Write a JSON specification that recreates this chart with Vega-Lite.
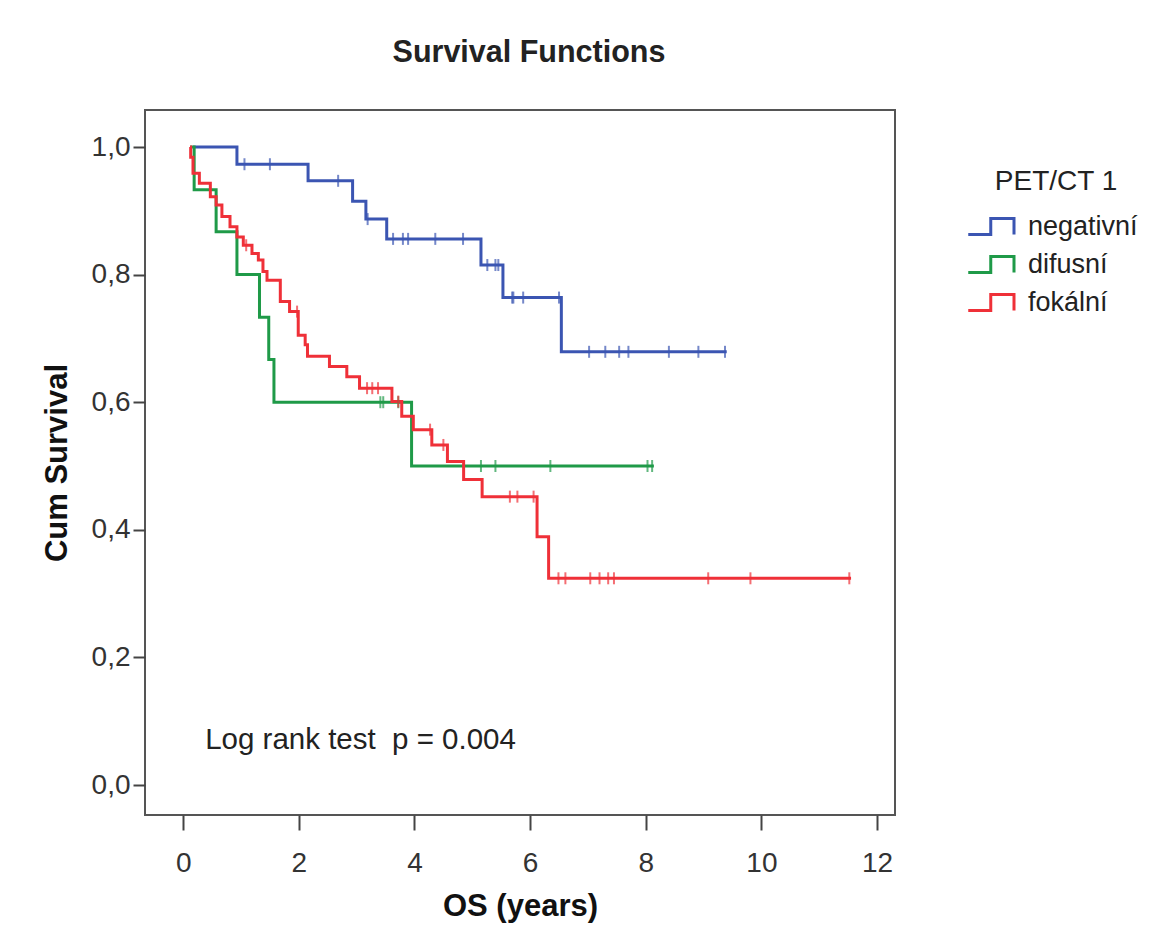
{
  "$schema": "https://vega.github.io/schema/vega-lite/v6.json",
  "width": 750,
  "height": 705,
  "autosize": "none",
  "padding": {"left": 145, "top": 110, "right": 258, "bottom": 124},
  "background": "white",
  "title": {"text": "Survival Functions", "font": "Liberation Sans", "fontSize": 30.5, "fontWeight": "bold", "color": "#222", "anchor": "middle", "offset": 42, "dx": 9},
  "config": {
    "view": {"stroke": "#555", "strokeWidth": 2},
    "axis": {"labelFont": "Liberation Sans", "labelFontSize": 28, "labelColor": "#333", "titleFont": "Liberation Sans", "titleFontSize": 31, "titleFontWeight": "bold", "titleColor": "#111", "domain": false, "grid": false, "tickColor": "#444", "tickWidth": 2},
    "legend": {"titleFont": "Liberation Sans", "labelFont": "Liberation Sans", "titleFontSize": 28, "titleFontWeight": "normal", "labelFontSize": 27, "titleColor": "#222", "labelColor": "#222"}
  },
  "data": {"values": [
    {"group": "negativní", "kind": "step", "t": 0.17, "S": 1.0},
    {"group": "negativní", "kind": "step", "t": 0.93, "S": 0.973},
    {"group": "negativní", "kind": "step", "t": 2.16, "S": 0.947},
    {"group": "negativní", "kind": "step", "t": 2.93, "S": 0.915},
    {"group": "negativní", "kind": "step", "t": 3.16, "S": 0.887},
    {"group": "negativní", "kind": "step", "t": 3.52, "S": 0.856},
    {"group": "negativní", "kind": "step", "t": 5.15, "S": 0.815},
    {"group": "negativní", "kind": "step", "t": 5.53, "S": 0.764},
    {"group": "negativní", "kind": "step", "t": 6.54, "S": 0.679},
    {"group": "negativní", "kind": "step", "t": 9.4, "S": 0.679},
    {"group": "negativní", "kind": "censor", "t": 1.06, "S": 0.973},
    {"group": "negativní", "kind": "censor", "t": 1.5, "S": 0.973},
    {"group": "negativní", "kind": "censor", "t": 2.68, "S": 0.947},
    {"group": "negativní", "kind": "censor", "t": 3.19, "S": 0.887},
    {"group": "negativní", "kind": "censor", "t": 3.63, "S": 0.856},
    {"group": "negativní", "kind": "censor", "t": 3.8, "S": 0.856},
    {"group": "negativní", "kind": "censor", "t": 3.89, "S": 0.856},
    {"group": "negativní", "kind": "censor", "t": 4.36, "S": 0.856},
    {"group": "negativní", "kind": "censor", "t": 4.84, "S": 0.856},
    {"group": "negativní", "kind": "censor", "t": 5.26, "S": 0.815},
    {"group": "negativní", "kind": "censor", "t": 5.4, "S": 0.815},
    {"group": "negativní", "kind": "censor", "t": 5.45, "S": 0.815},
    {"group": "negativní", "kind": "censor", "t": 5.69, "S": 0.764},
    {"group": "negativní", "kind": "censor", "t": 5.71, "S": 0.764},
    {"group": "negativní", "kind": "censor", "t": 5.88, "S": 0.764},
    {"group": "negativní", "kind": "censor", "t": 6.5, "S": 0.764},
    {"group": "negativní", "kind": "censor", "t": 7.02, "S": 0.679},
    {"group": "negativní", "kind": "censor", "t": 7.3, "S": 0.679},
    {"group": "negativní", "kind": "censor", "t": 7.54, "S": 0.679},
    {"group": "negativní", "kind": "censor", "t": 7.7, "S": 0.679},
    {"group": "negativní", "kind": "censor", "t": 8.4, "S": 0.679},
    {"group": "negativní", "kind": "censor", "t": 8.91, "S": 0.679},
    {"group": "negativní", "kind": "censor", "t": 9.37, "S": 0.679},
    {"group": "difusní", "kind": "step", "t": 0.12, "S": 1.0},
    {"group": "difusní", "kind": "step", "t": 0.19, "S": 0.933},
    {"group": "difusní", "kind": "step", "t": 0.57, "S": 0.867},
    {"group": "difusní", "kind": "step", "t": 0.93, "S": 0.8},
    {"group": "difusní", "kind": "step", "t": 1.32, "S": 0.733},
    {"group": "difusní", "kind": "step", "t": 1.48, "S": 0.667},
    {"group": "difusní", "kind": "step", "t": 1.57, "S": 0.6},
    {"group": "difusní", "kind": "step", "t": 3.95, "S": 0.5},
    {"group": "difusní", "kind": "step", "t": 8.14, "S": 0.5},
    {"group": "difusní", "kind": "censor", "t": 3.41, "S": 0.6},
    {"group": "difusní", "kind": "censor", "t": 3.46, "S": 0.6},
    {"group": "difusní", "kind": "censor", "t": 3.72, "S": 0.6},
    {"group": "difusní", "kind": "censor", "t": 5.15, "S": 0.5},
    {"group": "difusní", "kind": "censor", "t": 5.4, "S": 0.5},
    {"group": "difusní", "kind": "censor", "t": 6.35, "S": 0.5},
    {"group": "difusní", "kind": "censor", "t": 8.03, "S": 0.5},
    {"group": "difusní", "kind": "censor", "t": 8.11, "S": 0.5},
    {"group": "fokální", "kind": "step", "t": 0.12, "S": 1.0},
    {"group": "fokální", "kind": "step", "t": 0.13, "S": 0.984},
    {"group": "fokální", "kind": "step", "t": 0.17, "S": 0.959},
    {"group": "fokální", "kind": "step", "t": 0.28, "S": 0.943},
    {"group": "fokální", "kind": "step", "t": 0.47, "S": 0.922},
    {"group": "fokální", "kind": "step", "t": 0.57, "S": 0.909},
    {"group": "fokální", "kind": "step", "t": 0.67, "S": 0.891},
    {"group": "fokální", "kind": "step", "t": 0.81, "S": 0.875},
    {"group": "fokální", "kind": "step", "t": 0.93, "S": 0.859},
    {"group": "fokální", "kind": "step", "t": 1.04, "S": 0.846},
    {"group": "fokální", "kind": "step", "t": 1.19, "S": 0.833},
    {"group": "fokální", "kind": "step", "t": 1.3, "S": 0.823},
    {"group": "fokální", "kind": "step", "t": 1.38, "S": 0.805},
    {"group": "fokální", "kind": "step", "t": 1.45, "S": 0.791},
    {"group": "fokální", "kind": "step", "t": 1.68, "S": 0.758},
    {"group": "fokální", "kind": "step", "t": 1.84, "S": 0.742},
    {"group": "fokální", "kind": "step", "t": 1.99, "S": 0.705},
    {"group": "fokální", "kind": "step", "t": 2.11, "S": 0.69},
    {"group": "fokální", "kind": "step", "t": 2.15, "S": 0.672},
    {"group": "fokální", "kind": "step", "t": 2.53, "S": 0.656},
    {"group": "fokální", "kind": "step", "t": 2.83, "S": 0.64},
    {"group": "fokální", "kind": "step", "t": 3.05, "S": 0.622},
    {"group": "fokální", "kind": "step", "t": 3.61, "S": 0.601},
    {"group": "fokální", "kind": "step", "t": 3.78, "S": 0.578},
    {"group": "fokální", "kind": "step", "t": 3.98, "S": 0.557},
    {"group": "fokální", "kind": "step", "t": 4.3, "S": 0.533},
    {"group": "fokální", "kind": "step", "t": 4.57, "S": 0.507},
    {"group": "fokální", "kind": "step", "t": 4.85, "S": 0.479},
    {"group": "fokální", "kind": "step", "t": 5.17, "S": 0.452},
    {"group": "fokální", "kind": "step", "t": 6.12, "S": 0.389},
    {"group": "fokální", "kind": "step", "t": 6.32, "S": 0.324},
    {"group": "fokální", "kind": "step", "t": 11.55, "S": 0.324},
    {"group": "fokální", "kind": "censor", "t": 1.09, "S": 0.846},
    {"group": "fokální", "kind": "censor", "t": 1.97, "S": 0.742},
    {"group": "fokální", "kind": "censor", "t": 3.18, "S": 0.622},
    {"group": "fokální", "kind": "censor", "t": 3.27, "S": 0.622},
    {"group": "fokální", "kind": "censor", "t": 3.37, "S": 0.622},
    {"group": "fokální", "kind": "censor", "t": 3.72, "S": 0.601},
    {"group": "fokální", "kind": "censor", "t": 4.27, "S": 0.557},
    {"group": "fokální", "kind": "censor", "t": 4.5, "S": 0.533},
    {"group": "fokální", "kind": "censor", "t": 5.65, "S": 0.452},
    {"group": "fokální", "kind": "censor", "t": 5.78, "S": 0.452},
    {"group": "fokální", "kind": "censor", "t": 6.06, "S": 0.452},
    {"group": "fokální", "kind": "censor", "t": 6.49, "S": 0.324},
    {"group": "fokální", "kind": "censor", "t": 6.61, "S": 0.324},
    {"group": "fokální", "kind": "censor", "t": 7.04, "S": 0.324},
    {"group": "fokální", "kind": "censor", "t": 7.2, "S": 0.324},
    {"group": "fokální", "kind": "censor", "t": 7.35, "S": 0.324},
    {"group": "fokální", "kind": "censor", "t": 7.45, "S": 0.324},
    {"group": "fokální", "kind": "censor", "t": 9.08, "S": 0.324},
    {"group": "fokální", "kind": "censor", "t": 9.81, "S": 0.324},
    {"group": "fokální", "kind": "censor", "t": 11.52, "S": 0.324}
  ]},
  "encoding": {
    "x": {"field": "t", "type": "quantitative", "scale": {"domain": [-0.66, 12.31], "nice": false, "zero": false},
      "axis": {"values": [0, 2, 4, 6, 8, 10, 12], "title": "OS (years)", "tickSize": 15, "labelPadding": 19, "titlePadding": 14}},
    "y": {"field": "S", "type": "quantitative", "scale": {"domain": [-0.047, 1.058], "nice": false, "zero": false},
      "axis": {"values": [0, 0.2, 0.4, 0.6, 0.8, 1.0], "labelExpr": "replace(format(datum.value, '.1f'), '.', ',')", "title": "Cum Survival", "tickSize": 12, "labelPadding": 3, "titlePadding": 18}}
  },
  "layer": [
    {
      "transform": [{"filter": "datum.kind === 'step'"}],
      "mark": {"type": "line", "interpolate": "step-after", "strokeWidth": 3},
      "encoding": {
        "color": {"field": "group", "type": "nominal",
          "scale": {"domain": ["negativní", "difusní", "fokální"], "range": ["#3b55b2", "#1f9a48", "#ef3038"]},
          "legend": {"title": "PET/CT 1", "orient": "none", "legendX": 830, "legendY": 58, "titleAnchor": "middle", "titlePadding": 14,
            "symbolType": "M-1.55,0.53H-0.05V-0.53H1.5V0.53V-0.53H-0.05V0.53H-1.55", "symbolSize": 900, "symbolStrokeWidth": 3, "labelOffset": 20, "rowPadding": 7}}
      }
    },
    {
      "transform": [{"filter": "datum.kind === 'censor'"}],
      "mark": {"type": "tick", "orient": "vertical", "size": 12, "thickness": 2},
      "encoding": {
        "fill": {"field": "group", "type": "nominal",
          "scale": {"domain": ["negativní", "difusní", "fokální"], "range": ["#3b55b2", "#1f9a48", "#ef3038"]},
          "legend": null}
      }
    },
    {
      "data": {"values": [{"label": "Log rank test\u00a0 p = 0.004", "t": 0.38, "S": 0.07}]},
      "mark": {"type": "text", "align": "left", "baseline": "middle", "font": "Liberation Sans", "fontSize": 29.5, "color": "#222"},
      "encoding": {"text": {"field": "label"}}
    }
  ]
}
